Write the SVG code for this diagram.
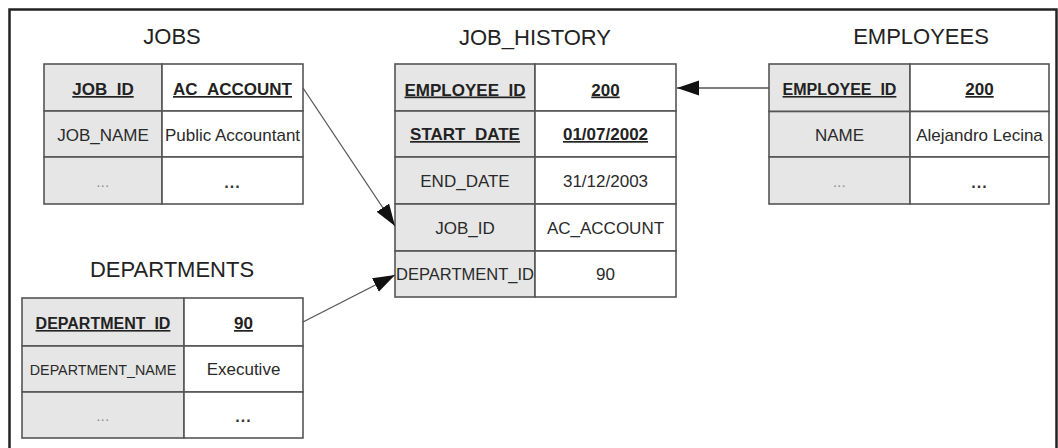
<svg xmlns="http://www.w3.org/2000/svg" width="1058" height="448" viewBox="0 0 1058 448">
<style>
  text { font-family: "Liberation Sans", Arial, sans-serif; fill: #2a2a2a; text-anchor: middle; }
  .title { font-size: 22px; fill: #222; }
  .k { font-size: 17px; font-weight: bold; text-decoration: underline; fill: #222; }
  .v { font-size: 17px; }
  .dl { font-size: 14px; fill: #8a8a8a; letter-spacing: 0.5px; }
  .dr { font-size: 16px; font-weight: bold; fill: #333; letter-spacing: 1px; }
  .c1 { fill: #e6e6e6; stroke: #555; stroke-width: 1.6; }
  .c2 { fill: #ffffff; stroke: #555; stroke-width: 1.6; }
  .conn { stroke: #555; stroke-width: 1.3; fill: none; marker-end: url(#ah); }
</style>
<defs>
  <marker id="ah" markerUnits="userSpaceOnUse" markerWidth="23" markerHeight="16" refX="22" refY="7.5" orient="auto">
    <path d="M0,0 L22,7.5 L0,15 z" fill="#111"/>
  </marker>
</defs>
<rect x="0" y="0" width="1058" height="448" fill="#fff"/>
<rect id="frame" x="9.5" y="9.5" width="1047" height="470" fill="none" stroke="#222" stroke-width="2.5"/>

<g id="jobs">
  <text class="title" x="172" y="44">JOBS</text>
  <rect class="c1" x="44" y="64" width="118" height="47"/>
  <rect class="c2" x="162" y="64" width="141" height="47"/>
  <rect class="c1" x="44" y="111" width="118" height="46"/>
  <rect class="c2" x="162" y="111" width="141" height="46"/>
  <rect class="c1" x="44" y="157" width="118" height="47"/>
  <rect class="c2" x="162" y="157" width="141" height="47"/>
  <text class="k" x="103" y="95">JOB_ID</text>
  <text class="k" x="232.5" y="95">AC_ACCOUNT</text>
  <text class="v" x="103" y="140.5">JOB_NAME</text>
  <text class="v" x="232.5" y="140.5">Public Accountant</text>
  <text class="dl" x="103" y="187">...</text>
  <text class="dr" x="232.5" y="188">...</text>
</g>

<g id="job_history">
  <text class="title" x="535" y="45">JOB_HISTORY</text>
  <rect class="c1" x="395" y="64" width="140" height="47"/>
  <rect class="c2" x="535" y="64" width="141" height="47"/>
  <rect class="c1" x="395" y="111" width="140" height="46"/>
  <rect class="c2" x="535" y="111" width="141" height="46"/>
  <rect class="c1" x="395" y="157" width="140" height="47"/>
  <rect class="c2" x="535" y="157" width="141" height="47"/>
  <rect class="c1" x="395" y="204" width="140" height="47"/>
  <rect class="c2" x="535" y="204" width="141" height="47"/>
  <rect class="c1" x="395" y="251" width="140" height="46"/>
  <rect class="c2" x="535" y="251" width="141" height="46"/>
  <text class="k" x="465" y="95.5">EMPLOYEE_ID</text>
  <text class="k" x="605.5" y="95.5">200</text>
  <text class="k" x="465" y="140">START_DATE</text>
  <text class="k" x="605.5" y="140">01/07/2002</text>
  <text class="v" x="465" y="187">END_DATE</text>
  <text class="v" x="605.5" y="187">31/12/2003</text>
  <text class="v" x="465" y="233.5">JOB_ID</text>
  <text class="v" x="605.5" y="233.5">AC_ACCOUNT</text>
  <text class="v" x="465" y="280" style="font-size:16.5px">DEPARTMENT_ID</text>
  <text class="v" x="605.5" y="280">90</text>
</g>

<g id="employees">
  <text class="title" x="921" y="44">EMPLOYEES</text>
  <rect class="c1" x="769" y="64" width="141" height="47.5"/>
  <rect class="c2" x="910" y="64" width="139" height="47.5"/>
  <rect class="c1" x="769" y="111.5" width="141" height="45.5"/>
  <rect class="c2" x="910" y="111.5" width="139" height="45.5"/>
  <rect class="c1" x="769" y="157" width="141" height="47"/>
  <rect class="c2" x="910" y="157" width="139" height="47"/>
  <text class="k" x="839.5" y="95" style="font-size:16px">EMPLOYEE_ID</text>
  <text class="k" x="979.5" y="95">200</text>
  <text class="v" x="839.5" y="140.5">NAME</text>
  <text class="v" x="979.5" y="140.5">Alejandro Lecina</text>
  <text class="dl" x="839.5" y="187">...</text>
  <text class="dr" x="979.5" y="188">...</text>
</g>

<g id="departments">
  <text class="title" x="172" y="277">DEPARTMENTS</text>
  <rect class="c1" x="22" y="298" width="162" height="48"/>
  <rect class="c2" x="184" y="298" width="119" height="48"/>
  <rect class="c1" x="22" y="346" width="162" height="46"/>
  <rect class="c2" x="184" y="346" width="119" height="46"/>
  <rect class="c1" x="22" y="392" width="162" height="46"/>
  <rect class="c2" x="184" y="392" width="119" height="46"/>
  <text class="k" x="103" y="329" style="font-size:16px">DEPARTMENT_ID</text>
  <text class="k" x="243.5" y="329">90</text>
  <text class="v" x="103" y="374.5" style="font-size:14.3px">DEPARTMENT_NAME</text>
  <text class="v" x="243.5" y="375">Executive</text>
  <text class="dl" x="103" y="421">...</text>
  <text class="dr" x="243.5" y="422">...</text>
</g>

<g id="connectors">
  <line class="conn" x1="769" y1="88" x2="677" y2="88"/>
  <line class="conn" x1="303" y1="88" x2="395" y2="226"/>
  <line class="conn" x1="303" y1="322" x2="395" y2="275"/>
</g>
</svg>
